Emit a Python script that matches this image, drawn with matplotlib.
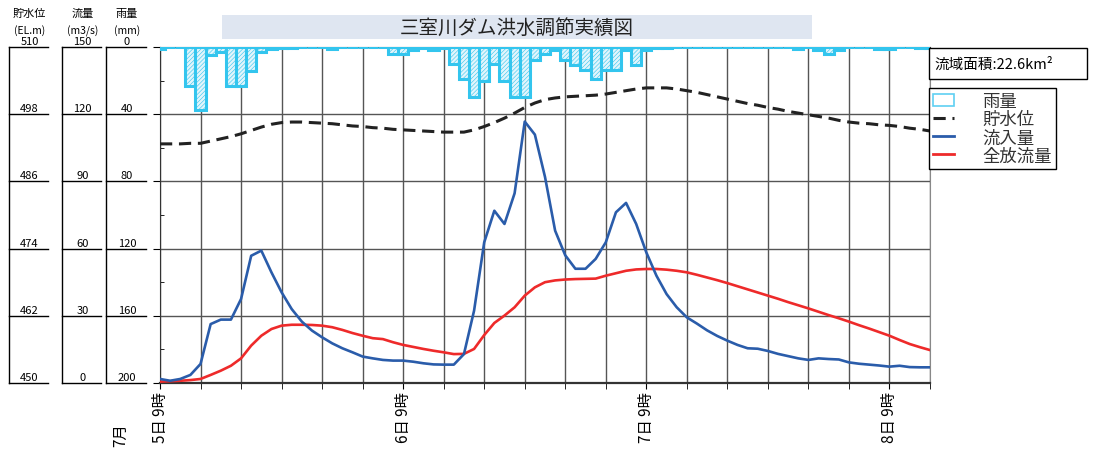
import numpy as np
import matplotlib
matplotlib.use('Agg')
import matplotlib.pyplot as plt
from matplotlib.patches import Rectangle
from matplotlib.lines import Line2D

plt.rcParams['font.family'] = ['Noto Sans CJK JP', 'DejaVu Sans']
plt.rcParams['hatch.linewidth'] = 0.4

# 時刻（7月5日9時からの経過時間）
hours = np.arange(77)

# 雨量 (mm)
rain_mm = [1, 0, 0, 23, 37.5, 5, 3, 23.5, 23.5, 14.5,
           3, 1, 0.5, 0.5, 0, 0, 0, 1, 0, 0,
           0, 0, 0, 4, 4, 2, 0.5, 1.5, 0.5, 10,
           19, 29.5, 20, 10, 20, 29.5, 29.5, 8, 4, 2,
           7.5, 10.5, 13.5, 19, 13.5, 13.5, 2, 11, 2, 0.5,
           0.5, 0, 0, 0, 0, 0, 0, 0, 0, 0,
           0, 0, 0, 1, 0, 1.5, 4, 2, 0, 0,
           0, 1, 1, 0, 0, 0.5, 0.5]

# 貯水位 (EL.m)
water_level = [492.7, 492.7, 492.7, 492.8, 492.8, 493.2, 493.6, 494.0, 494.5, 495.1,
               495.7, 496.2, 496.5, 496.6, 496.6, 496.5, 496.4, 496.3, 496.1, 495.9,
               495.8, 495.6, 495.5, 495.3, 495.2, 495.1, 495.0, 494.9, 494.8, 494.8,
               494.8, 495.2, 495.8, 496.5, 497.3, 498.2, 499.2, 500.0, 500.6, 500.9,
               501.1, 501.2, 501.3, 501.4, 501.6, 501.9, 502.2, 502.5, 502.7, 502.7,
               502.7, 502.5, 502.2, 501.9, 501.5, 501.1, 500.7, 500.3, 499.9, 499.6,
               499.2, 498.9, 498.5, 498.2, 497.9, 497.6, 497.3, 496.9, 496.6, 496.4,
               496.3, 496.1, 496.0, 495.8, 495.5, 495.3, 495.0]

# 流入量 (m3/s)
inflow = [1.8, 1.0, 1.8, 3.6, 8.5, 26.3, 28.3, 28.3, 37.5, 56.8,
          59.1, 49.4, 40.5, 33, 27.4, 23.4, 20.4, 17.7, 15.5, 13.7,
          11.8, 11, 10.3, 10, 10, 9.5, 8.8, 8.3, 8.2, 8.2,
          12.9, 32.3, 62.8, 76.9, 71, 84.7, 116.7, 110.9, 92, 68,
          57, 51, 51, 55.4, 62.8, 76.2, 80.4, 71, 58.3, 47.9,
          39.7, 33.8, 29.3, 26.5, 23.5, 21, 18.9, 17, 15.5, 15.3,
          14.3, 13, 12, 11, 10.3, 11, 10.7, 10.5, 9.2, 8.6,
          8.2, 7.8, 7.3, 7.7, 7.1, 7, 7]

# 全放流量 (m3/s)
outflow = [0.6, 0.8, 1.0, 1.3, 1.8, 3.6, 5.5, 7.7, 11, 16.7,
           21.1, 24.1, 25.6, 26, 26, 25.9, 25.6, 24.9, 23.7, 22.3,
           21.1, 20, 19.6, 18.2, 17, 16.1, 15.2, 14.4, 13.7, 12.9,
           13, 15.2, 21.4, 26.8, 30.1, 33.8, 39, 42.7, 45, 45.8,
           46.2, 46.4, 46.5, 46.6, 47.9, 49, 50.1, 50.7, 50.9, 50.9,
           50.6, 50.1, 49.4, 48.3, 47.1, 45.9, 44.6, 43.2, 41.8, 40.4,
           39, 37.6, 36.1, 34.7, 33.3, 31.8, 30.3, 28.9, 27.4, 25.8,
           24.3, 22.7, 21.1, 19.2, 17.4, 16, 14.7]

level_ticks = [510, 498, 486, 474, 462, 450]
flow_ticks = [150, 120, 90, 60, 30, 0]
rain_ticks = [0, 40, 80, 120, 160, 200]
date_ticks = [0, 24, 48, 72]
date_labels = ['5日 9時', '6日 9時', '7日 9時', '8日 9時']

W, H = 1099, 452
fig = plt.figure(figsize=(W / 100, H / 100), dpi=100)


def fx(px):
    return px / W


def fy(py):
    return 1 - py / H


# メインの軸（流量）
ax = fig.add_axes([fx(160), fy(384), fx(930) - fx(160), fy(48) - fy(384)])
ax.set_xlim(0, 76)
ax.set_ylim(0, 150)
ax.set_yticks(range(0, 151, 30))
ax.set_yticks(range(0, 151, 15), minor=True)
ax.set_yticklabels([])
ax.set_xticks(date_ticks)
ax.set_xticks(range(0, 77, 4), minor=True)
ax.set_xticklabels(date_labels, rotation=90, fontsize=11)
ax.tick_params(axis='x', which='both', direction='out', length=4, pad=2)
ax.tick_params(axis='y', which='major', direction='out', length=5)
ax.tick_params(axis='y', which='minor', direction='in', length=3)
ax.grid(which='major', axis='y', color='#555555', lw=1)
ax.grid(which='minor', axis='x', color='#555555', lw=1)
ax.grid(which='major', axis='x', color='#555555', lw=1)
for s in ['top', 'bottom', 'left']:
    ax.spines[s].set_color('#333333')
ax.spines['bottom'].set_linewidth(1.6)
ax.spines['right'].set_color('#888888')
ax.set_axisbelow(True)

ax.plot(hours, outflow, color='#ee2a2a', lw=1.9, zorder=3)
ax.plot(hours, inflow, color='#2a5caa', lw=1.9, zorder=4)

# 雨量（上から下向き）
axr = ax.twinx()
axr.set_ylim(200, 0)
axr.bar(hours, rain_mm, width=1.0, facecolor='#e2f5fc', edgecolor='#33c5ee',
        lw=2.2, hatch='////////')
axr.set_axis_off()

# 貯水位
axw = ax.twinx()
axw.set_ylim(450, 510)
axw.plot(hours, water_level, color='#222222', lw=2.2, dashes=(4, 2.2))
axw.set_axis_off()

fig.text(fx(121), fy(447), '7月', rotation=90, ha='center', va='bottom', fontsize=11)

# 左側の目盛り表
panels = [(9, 48, level_ticks, '貯水位', '(EL.m)'),
          (62, 101, flow_ticks, '流量', '(m3/s)'),
          (106, 146, rain_ticks, '雨量', '(mm)')]
for x0, x1, labels, head, unit in panels:
    fig.add_artist(Line2D([fx(x0), fx(x0)], [fy(48), fy(384)], color='black', lw=1,
                          transform=fig.transFigure))
    for k, lab in enumerate(labels):
        yy = 48 + k * 67.2
        fig.add_artist(Line2D([fx(x0), fx(x1)], [fy(yy), fy(yy)], color='black', lw=1,
                              transform=fig.transFigure))
        fig.text(fx((x0 + x1) / 2 + 1), fy(yy - 1), str(lab), ha='center', va='bottom',
                 fontsize=8)
    fig.text(fx((x0 + x1) / 2 + 1), fy(14), head, ha='center', va='center', fontsize=8)
    fig.text(fx((x0 + x1) / 2 + 1), fy(31), unit, ha='center', va='center', fontsize=7.5)

# タイトル
fig.add_artist(Rectangle((fx(222), fy(40)), fx(812) - fx(222), fy(16) - fy(40),
                         facecolor='#dfe6f1', edgecolor='none', transform=fig.transFigure))
fig.text(fx(517), fy(28), '三室川ダム洪水調節実績図', ha='center', va='center',
         fontsize=14, color='#222222')

# 流域面積
fig.add_artist(Rectangle((fx(929), fy(80)), fx(1087) - fx(929), fy(49) - fy(80),
                         facecolor='white', edgecolor='black', lw=1, transform=fig.transFigure))
fig.text(fx(934), fy(64.5), '流域面積:22.6km²', ha='left', va='center', fontsize=10.5)

# 凡例
handles = [Rectangle((0, 0), 1, 1, facecolor='white', edgecolor='#5fd0f2', lw=1.2),
           Line2D([], [], color='#222222', lw=2.2, dashes=(4, 2.2)),
           Line2D([], [], color='#2a5caa', lw=2),
           Line2D([], [], color='#ee2a2a', lw=2)]
leg = fig.legend(handles, ['雨量', '貯水位', '流入量', '全放流量'], loc='upper left',
                 bbox_to_anchor=(fx(929), fy(89)), bbox_transform=fig.transFigure,
                 fontsize=12.5, frameon=True, fancybox=False, edgecolor='black',
                 framealpha=1, labelspacing=0.0, handlelength=1.2, handletextpad=1.6,
                 borderpad=0.25, borderaxespad=0)
leg.get_frame().set_linewidth(1)
for txt in leg.get_texts():
    txt.set_color('#333333')

fig.savefig('out.png', dpi=100)
